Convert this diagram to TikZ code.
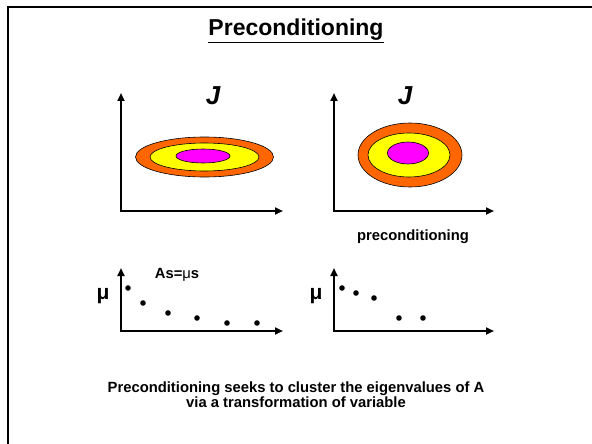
\documentclass[tikz,border=0pt]{standalone}
\usepackage{fontspec}
\setmainfont{Liberation Sans}
\setsansfont{Liberation Sans}
\usepackage{xcolor}
\usetikzlibrary{arrows.meta, positioning}
\definecolor{ringorange}{RGB}{255,102,0}
\definecolor{ringyellow}{RGB}{255,255,0}
\definecolor{ringmagenta}{RGB}{255,0,255}

\begin{document}
\begin{tikzpicture}[
  x=1pt, y=-1pt,
  font=\sffamily\bfseries,
  >={Triangle[length=8pt,width=7pt]},
  frame/.style={line width=2.5pt, black},
  axis/.style={<->, line width=2.5pt, black},
  ring/.style={draw=black, line width=0.6pt},
  ttl/.style={font=\fontsize{23}{26}\selectfont\sffamily\bfseries},
  lbl/.style={font=\fontsize{14.8}{15}\selectfont\sffamily\bfseries, inner sep=0pt},
  mulbl/.style={font=\fontsize{21}{22}\selectfont\sffamily\bfseries, inner sep=0pt},
  bigJ/.style={font=\fontsize{26}{28}\selectfont\sffamily\bfseries\itshape, inner sep=0pt},
  dot/.style={fill=black},
]
\useasboundingbox (0,0) rectangle (592,444);
%% Slide frame
\coordinate (TL) at (8,7);
\coordinate (TR) at (592,7);
\coordinate (BL) at (8,444);
\draw[frame] (TR) -- (TL) -- (BL);
%% Title
\node[ttl] (title) at (296,31) {\underline{Preconditioning}};
%% Cost contours, before
\coordinate (O1) at (121,211);
\coordinate (Y1) at (121,93);
\coordinate (X1) at (283,211);
\draw[axis] (Y1) -- (O1) -- (X1);
\draw[ring, fill=ringorange]  (204.5,157) ellipse [x radius=69, y radius=20];
\draw[ring, fill=ringyellow]  (204.5,157) ellipse [x radius=54.5, y radius=14];
\draw[ring, fill=ringmagenta] (203,156) ellipse [x radius=27, y radius=7];
\node[bigJ] (J1) at (213,96) {J};
%% Cost contours, after
\coordinate (O2) at (334,211);
\coordinate (Y2) at (334,93);
\coordinate (X2) at (494,211);
\draw[axis] (Y2) -- (O2) -- (X2);
\draw[ring, fill=ringorange]  (410,155) ellipse [x radius=52, y radius=32];
\draw[ring, fill=ringyellow]  (409,155) ellipse [x radius=41, y radius=22];
\draw[ring, fill=ringmagenta] (408,153) ellipse [x radius=20.5, y radius=11];
\node[bigJ] (J2) at (405,96) {J};
\node[lbl] (pre) at (413,237) {preconditioning};
%% Eigenvalues, before
\coordinate (O3) at (121,331);
\coordinate (Y3) at (121,268);
\coordinate (X3) at (283,331);
\draw[axis] (Y3) -- (O3) -- (X3);
\foreach \px/\py in {128/288, 143/303, 168/313, 197/318, 227/323, 257/323}
  \fill[dot] (\px,\py) circle (2.8);
\node[mulbl] (mu1) at (103,296) {μ};
\node[lbl] (eig) at (177,275) {As={\mdseries μ}s};
%% Eigenvalues, after
\coordinate (O4) at (334,331);
\coordinate (Y4) at (334,268);
\coordinate (X4) at (494,331);
\draw[axis] (Y4) -- (O4) -- (X4);
\foreach \px/\py in {342/288, 356/293, 374/298, 399/318, 423/318}
  \fill[dot] (\px,\py) circle (2.8);
\node[mulbl] (mu2) at (316,296) {μ};
%% Caption
\node[lbl, align=center] (cap) at (296,395)
  {Preconditioning seeks to cluster the eigenvalues of A\\via a transformation of variable};
\end{tikzpicture}
\end{document}
